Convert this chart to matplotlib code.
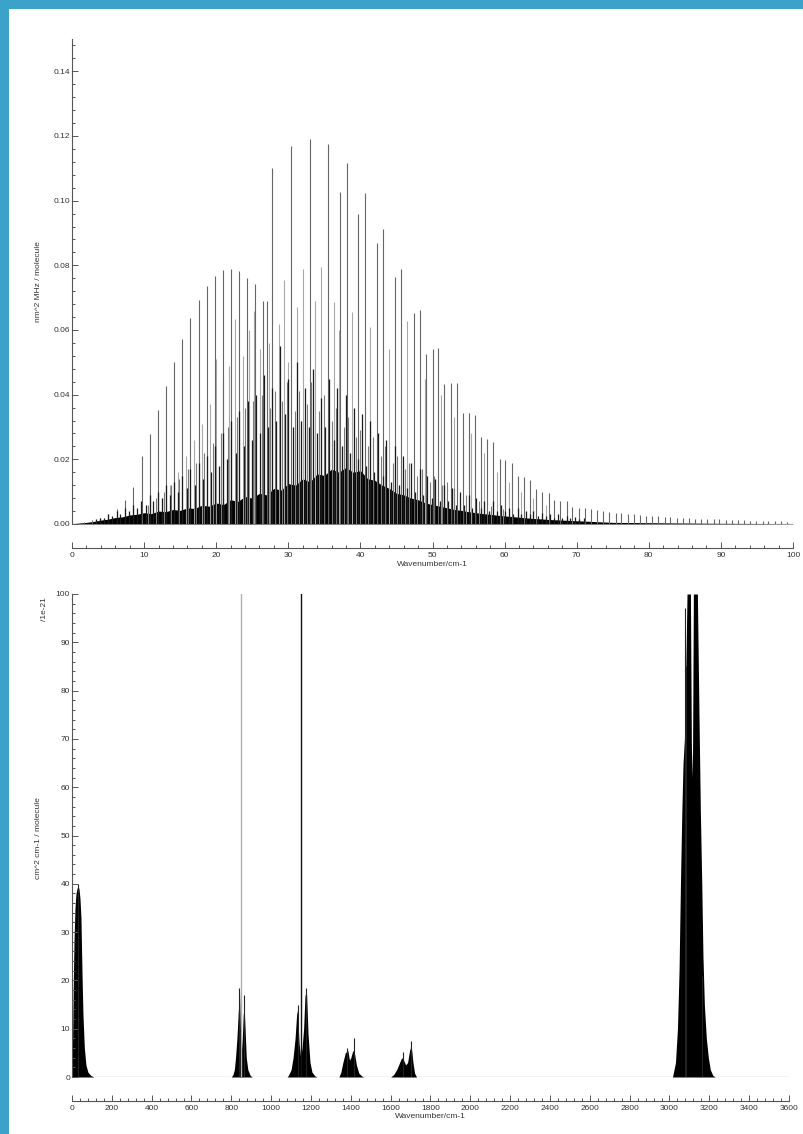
import matplotlib.pyplot as plt
from matplotlib.patches import Rectangle
from matplotlib.ticker import MultipleLocator, FormatStrFormatter

plt.rcParams['font.family'] = ['Liberation Sans', 'DejaVu Sans']

# ================== DATA: pure rotational spectrum (top) ==================
# strongest lines of the envelope
main_pos = [1.7, 2.8, 3.9, 5.0, 6.2, 7.4, 8.5, 9.7, 10.8, 11.9,
            13.0, 14.2, 15.3, 16.4, 17.6, 18.7, 19.8, 20.9, 22.1, 23.2,
            24.3, 25.4, 26.5, 27.0, 27.8, 30.4, 33.0, 35.5, 37.2, 38.1,
            39.7, 40.6, 42.3, 43.2, 44.8, 45.7, 47.4, 48.3, 49.1, 50.0,
            50.8, 51.6, 52.5, 53.4, 54.2, 55.0, 55.9, 56.7, 57.6, 58.4,
            59.3, 60.1, 61.0, 61.9, 62.7, 63.5, 64.4, 65.2, 66.1, 66.9,
            67.7, 68.6, 69.4, 70.3, 71.1, 72.0, 72.8, 73.7, 74.5, 75.4,
            76.2, 77.1, 77.9, 78.8, 79.6, 80.5, 81.3, 82.2, 83.0, 83.9,
            84.7, 85.6, 86.4, 87.3, 88.1, 89.0, 89.8, 90.7, 91.5, 92.4,
            93.2, 94.1, 94.9, 95.8, 96.6, 97.5, 98.3, 99.2]
main_int = [0.0006, 0.0012, 0.002, 0.003, 0.0045, 0.0074, 0.0113, 0.021, 0.0278, 0.0352,
            0.0427, 0.050, 0.0573, 0.0636, 0.0692, 0.0736, 0.0767, 0.0785, 0.0789, 0.0783,
            0.0762, 0.0742, 0.069, 0.069, 0.110, 0.117, 0.119, 0.1175, 0.1027, 0.1115,
            0.0958, 0.1024, 0.087, 0.0912, 0.0765, 0.079, 0.0653, 0.0663, 0.0527, 0.054,
            0.0543, 0.0432, 0.0435, 0.0435, 0.0344, 0.0344, 0.0337, 0.0268, 0.0263, 0.0254,
            0.0202, 0.0198, 0.019, 0.0148, 0.0144, 0.0136, 0.0107, 0.010, 0.0095, 0.0074,
            0.0072, 0.007, 0.0052, 0.005, 0.0049, 0.0045, 0.0042, 0.004, 0.0036, 0.0035,
            0.0034, 0.003, 0.003, 0.0029, 0.0026, 0.0025, 0.0024, 0.0022, 0.0021, 0.002,
            0.0019, 0.0018, 0.0017, 0.0016, 0.0015, 0.0015, 0.0014, 0.0013, 0.0012, 0.0012,
            0.0011, 0.001, 0.001, 0.0009, 0.0009, 0.0008, 0.0008, 0.0007]

# secondary (weaker) lines
mid_pos = [12.5, 13.6, 14.7, 15.8, 16.9, 18.0, 19.1, 20.0, 21.0, 21.8,
           22.6, 23.7, 24.6, 25.3, 26.1, 27.3, 28.7, 29.4, 30.0, 31.2,
           32.0, 33.75, 34.6, 36.3, 37.0, 38.9, 41.4, 44.0, 46.5, 49.0,
           51.2, 53.0, 55.4, 57.2, 59.0, 60.6, 62.3, 64.0, 65.7]
mid_int = [0.008, 0.012, 0.016, 0.021, 0.026, 0.031, 0.037, 0.051, 0.045, 0.049,
           0.0635, 0.052, 0.060, 0.066, 0.054, 0.056, 0.0618, 0.0754, 0.050, 0.0672,
           0.079, 0.069, 0.0795, 0.0688, 0.060, 0.0656, 0.0608, 0.054, 0.0627, 0.045,
           0.040, 0.033, 0.028, 0.022, 0.016, 0.013, 0.010, 0.008, 0.006]

# third family of lines (grey, medium)
weak_pos = [10.5, 11.6, 12.7, 13.8, 14.9, 16.1, 17.2, 18.3, 19.5, 20.6,
            21.7, 22.9, 24.0, 25.1, 26.3, 27.5, 28.1, 29.1, 29.8, 30.9,
            31.5, 32.6, 33.2, 34.3, 34.9, 36.0, 36.6, 37.7, 38.3, 39.4,
            40.0, 41.1, 41.7, 42.8, 43.4, 44.5, 45.1, 46.2, 46.8, 47.9,
            48.5, 49.6, 50.2, 51.3, 52.0, 53.0, 54.7, 56.4, 58.1, 59.8]
weak_int = [0.006, 0.008, 0.010, 0.012, 0.014, 0.017, 0.019, 0.022, 0.025, 0.028,
            0.030, 0.033, 0.036, 0.038, 0.040, 0.036, 0.041, 0.038, 0.044, 0.035,
            0.041, 0.037, 0.044, 0.035, 0.040, 0.032, 0.036, 0.030, 0.033, 0.027,
            0.029, 0.024, 0.027, 0.021, 0.024, 0.019, 0.021, 0.017, 0.019, 0.015,
            0.017, 0.013, 0.015, 0.012, 0.013, 0.011, 0.009, 0.007, 0.0055, 0.0045]

# dense forest of weak lines near the baseline
low_pos = [3.3, 3.9, 4.4, 5.0, 5.6, 6.2, 6.7, 7.3, 7.9, 8.5,
           9.0, 9.6, 10.2, 10.8, 11.3, 11.9, 12.5, 13.0, 13.6, 14.2,
           14.7, 15.3, 15.9, 16.4, 17.0, 17.6, 18.1, 18.7, 19.3, 19.8,
           20.4, 21.0, 21.5, 22.1, 22.7, 23.2, 23.8, 24.4, 24.9, 25.5,
           26.1, 26.6, 27.2, 27.8, 28.3, 28.9, 29.5, 30.0, 30.6, 31.2,
           31.7, 32.3, 32.9, 33.4, 34.0, 34.6, 35.1, 35.7, 36.3, 36.8,
           37.4, 38.0, 38.5, 39.1, 39.7, 40.2, 40.8, 41.4, 41.9, 42.5,
           43.1, 43.6, 44.2, 44.8, 45.3, 45.9, 46.5, 47.0, 47.6, 48.2,
           48.7, 49.3, 49.9, 50.4, 51.0, 51.6, 52.1, 52.7, 53.3, 53.8,
           54.4, 55.0, 55.5, 56.1, 56.7, 57.2, 57.8, 58.4, 58.9, 59.5,
           60.1, 60.6, 61.2, 61.8, 62.3, 62.9, 63.5, 64.0, 64.6, 65.2,
           65.7, 66.3, 66.9, 67.4, 68.0, 68.6, 69.1, 69.7, 70.3, 71.0]
low_int = [0.0015, 0.002, 0.0018, 0.003, 0.0025, 0.004, 0.003, 0.005, 0.004, 0.006,
           0.005, 0.007, 0.006, 0.009, 0.007, 0.010, 0.008, 0.012, 0.009, 0.013,
           0.010, 0.015, 0.011, 0.017, 0.012, 0.019, 0.014, 0.021, 0.016, 0.024,
           0.018, 0.028, 0.020, 0.032, 0.022, 0.035, 0.024, 0.038, 0.026, 0.040,
           0.028, 0.046, 0.030, 0.042, 0.032, 0.055, 0.034, 0.045, 0.030, 0.050,
           0.032, 0.042, 0.030, 0.048, 0.028, 0.039, 0.030, 0.045, 0.026, 0.042,
           0.024, 0.040, 0.022, 0.036, 0.020, 0.034, 0.018, 0.032, 0.016, 0.028,
           0.015, 0.026, 0.013, 0.024, 0.012, 0.021, 0.011, 0.019, 0.010, 0.017,
           0.009, 0.015, 0.008, 0.014, 0.007, 0.012, 0.007, 0.011, 0.006, 0.010,
           0.006, 0.009, 0.005, 0.008, 0.005, 0.007, 0.004, 0.007, 0.004, 0.006,
           0.004, 0.005, 0.003, 0.005, 0.003, 0.004, 0.003, 0.004, 0.0025, 0.0035,
           0.0025, 0.003, 0.002, 0.003, 0.002, 0.0025, 0.0018, 0.0022, 0.0015, 0.002]

# solid dark base under the forest
base_x = [0, 1, 2, 3, 4, 5, 6, 7, 8, 9,
          10, 11, 12, 13, 14, 15, 16, 17, 18, 19,
          20, 21, 22, 23, 24, 25, 26, 27, 28, 29,
          30, 31, 32, 33, 34, 35, 36, 37, 38, 39,
          40, 41, 42, 43, 44, 45, 46, 47, 48, 49,
          50, 51, 52, 53, 54, 55, 56, 57, 58, 59,
          60, 61, 62, 63, 64, 65, 66, 67, 68, 69,
          70, 71, 72, 73, 74, 75, 80, 90, 100]
base_y = [0.0001, 0.0003, 0.0005, 0.0008, 0.0012, 0.0015, 0.002, 0.0022, 0.0028, 0.003,
          0.0035, 0.0032, 0.004, 0.0038, 0.0045, 0.0042, 0.005, 0.0048, 0.0058, 0.0055,
          0.0065, 0.006, 0.0075, 0.007, 0.0085, 0.008, 0.0095, 0.009, 0.011, 0.0105,
          0.0125, 0.012, 0.014, 0.013, 0.0155, 0.015, 0.017, 0.016, 0.0175, 0.016,
          0.0165, 0.014, 0.0135, 0.012, 0.011, 0.0095, 0.009, 0.008, 0.0075, 0.0065,
          0.006, 0.0055, 0.005, 0.0045, 0.0042, 0.0038, 0.0035, 0.0032, 0.003, 0.0027,
          0.0025, 0.0023, 0.0021, 0.0019, 0.0017, 0.0016, 0.0014, 0.0013, 0.0012, 0.0011,
          0.001, 0.0009, 0.0008, 0.0007, 0.0006, 0.0005, 0.0004, 0.0002, 0.0001]

# ================== DATA: infrared bands (bottom) ==================
band_x = [0, 3, 6, 10, 15, 20, 25, 30, 35, 40, 45, 50, 55, 62, 70, 80, 95, 110,
          800, 808, 815, 821, 828, 833, 838, 841, 845, 850, 855, 860, 865, 869, 875, 883, 895, 905,
          1080, 1086, 1100, 1110, 1120, 1128, 1133, 1140, 1148, 1155, 1163, 1170, 1178, 1185,
          1195, 1205, 1220, 1230,
          1340, 1350, 1360, 1372, 1385, 1393, 1400, 1410, 1418, 1428, 1440, 1455, 1465,
          1600, 1615, 1630, 1645, 1655, 1665, 1675, 1685, 1695, 1703, 1712, 1720, 1730,
          3015, 3030, 3040, 3048, 3055, 3062, 3068, 3075, 3082, 3088, 3105, 3110, 3115,
          3120, 3140, 3148, 3155, 3162, 3168, 3175, 3185, 3195, 3205, 3218, 3230]
band_y = [0, 8, 18, 28, 35, 38, 39, 39.5, 39, 37, 33, 22, 13, 6, 2.5, 1, 0.3, 0,
          0, 0.5, 1.5, 4, 8, 12, 16, 18, 11, 5, 8, 13, 14, 10, 4, 1.5, 0.3, 0,
          0, 0.3, 1.5, 4, 8, 13, 14, 7, 4, 6, 10, 17, 17, 9,
          3, 1, 0.2, 0,
          0, 1, 3, 5, 5.5, 3.5, 4, 5.5, 5, 2.5, 0.8, 0.2, 0,
          0, 0.5, 1.5, 3, 4, 3.5, 2.5, 3, 5.5, 6.5, 3, 0.8, 0,
          0, 3, 10, 22, 40, 55, 65, 70, 85, 100, 100, 68, 62,
          100, 100, 75, 55, 40, 25, 15, 8, 4, 1.5, 0.3, 0]

spike_pos = [30, 841, 862, 1133, 1176, 1380, 1415, 1660, 1703, 3078, 3082, 3165]
spike_int = [40, 18.5, 17, 15, 18.5, 6, 8, 5.2, 7.5, 97, 85, 21]

# two strong lines going off scale
strong_pos = [850, 1151]
strong_int = [140, 140]
strong_col = ['#b0b0b0', '#111111']

# ================== FIGURE ==================
fig = plt.figure(figsize=(8.04, 11.34), dpi=100)
fig.patch.set_facecolor('#3ba3c9')
fig.add_artist(Rectangle((9 / 804, 0), 1, 1 - 9 / 1134, transform=fig.transFigure,
                         facecolor='white', edgecolor='none', zorder=-5))

AX_COL = '#555555'
TXT_COL = '#333333'


def estilo(ax, offset):
    ax.set_facecolor('none')
    ax.spines['top'].set_visible(False)
    ax.spines['right'].set_visible(False)
    ax.spines['bottom'].set_position(('outward', offset))
    for s in ['left', 'bottom']:
        ax.spines[s].set_color(AX_COL)
        ax.spines[s].set_linewidth(0.8)
    ax.tick_params(which='both', direction='in', colors=AX_COL, labelcolor=TXT_COL,
                   labelsize=6, width=0.7)
    ax.tick_params(which='major', length=4.5)
    ax.tick_params(which='minor', length=2)
    ax.tick_params(axis='x', pad=3)
    ax.tick_params(axis='y', pad=1.5)


# Gráfico 1 - espectro rotacional
ax1 = fig.add_axes([72 / 804, 1 - 524 / 1134, 721 / 804, 485 / 1134])
ax1.fill_between(base_x, base_y, color='black', lw=0)
ax1.vlines(mid_pos, 0, mid_int, colors='#a8a8a8', lw=0.8)
ax1.vlines(weak_pos, 0, weak_int, colors='#7a7a7a', lw=0.8)
ax1.vlines(main_pos, 0, main_int, colors='#666666', lw=0.8)
ax1.vlines(low_pos, 0, low_int, colors='#1a1a1a', lw=0.9)
ax1.axhline(0, color='#444444', lw=0.8)
ax1.set_xlim(0, 100)
ax1.set_ylim(0, 0.15)
estilo(ax1, 17.5)
ax1.xaxis.set_major_locator(MultipleLocator(10))
ax1.xaxis.set_minor_locator(MultipleLocator(2))
ax1.yaxis.set_major_locator(MultipleLocator(0.02))
ax1.yaxis.set_minor_locator(MultipleLocator(0.004))
ax1.yaxis.set_major_formatter(FormatStrFormatter('%.2f'))
ax1.set_xlabel('Wavenumber/cm-1', fontsize=6, color=TXT_COL, labelpad=1)
fig.text(39 / 804, 1 - 282 / 1134, 'nm^2 MHz / molecule', rotation=90, fontsize=6,
         color=TXT_COL, ha='center', va='center')

# Gráfico 2 - bandas no infravermelho
ax2 = fig.add_axes([72 / 804, 1 - 1077 / 1134, 717 / 804, 483 / 1134])
ax2.fill_between(band_x, band_y, color='black', lw=0)
ax2.vlines(spike_pos, 0, spike_int, colors='#222222', lw=0.8)
ax2.vlines(strong_pos, 0, strong_int, colors=strong_col, lw=1.0)
ax2.axhline(0, color='#444444', lw=0.8)
ax2.set_xlim(0, 3600)
ax2.set_ylim(0, 100)
estilo(ax2, 17)
ax2.xaxis.set_major_locator(MultipleLocator(200))
ax2.xaxis.set_minor_locator(MultipleLocator(40))
ax2.yaxis.set_major_locator(MultipleLocator(10))
ax2.yaxis.set_minor_locator(MultipleLocator(2))
ax2.set_xlabel('Wavenumber/cm-1', fontsize=6, color=TXT_COL, labelpad=1)
fig.text(39 / 804, 1 - 838 / 1134, 'cm^2 cm-1 / molecule', rotation=90, fontsize=6,
         color=TXT_COL, ha='center', va='center')
fig.text(45 / 804, 1 - 609 / 1134, '/1e-21', rotation=90, fontsize=6,
         color=TXT_COL, ha='center', va='center')

plt.savefig('out.png', dpi=100)
plt.close()
